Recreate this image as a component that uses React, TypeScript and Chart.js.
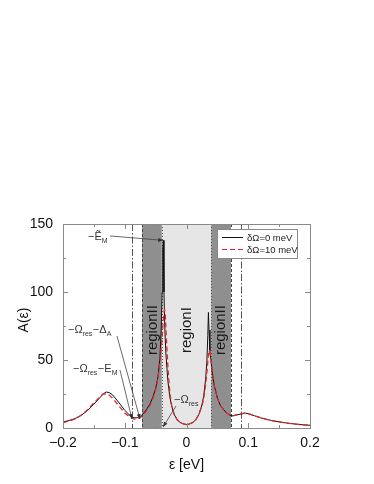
import React, { useEffect, useRef } from 'react';
import { Chart, registerables } from 'chart.js';
Chart.register(...registerables);

const energies = [-0.2,-0.19,-0.18,-0.17,-0.16,-0.15,-0.14,-0.135,-0.13,-0.125,-0.12,-0.11,-0.1,-0.09,-0.085,-0.08,-0.075,-0.07,-0.065,-0.06,-0.055,-0.05,-0.046,-0.043,-0.041,-0.0395,-0.0385,-0.0375,-0.0365,-0.0355,-0.0345,-0.033,-0.03,-0.027,-0.024,-0.02,-0.015,-0.01,-0.005,0,0.005,0.01,0.015,0.02,0.025,0.028,0.031,0.033,0.0345,0.0355,0.0365,0.038,0.04,0.042,0.045,0.05,0.055,0.06,0.065,0.07,0.075,0.08,0.085,0.09,0.095,0.1,0.105,0.11,0.12,0.13,0.14,0.15,0.16,0.17,0.18,0.19,0.2];

const specNoShift = [4.5,5.5,7,9.5,13,17.5,22.5,25,26.5,26,24.5,19,13,8.5,7.5,7.5,8.5,10.5,13.5,17,22,29,38,52,72,100,132,138,100,80,66,52,34,23,16,10,6,4,3,2.5,3,4,6,10,17,24,36,49,68,85,72,57,48,40,31,22,16.5,13.5,11,9.5,9,9.5,10,10.5,11,10.5,9.8,9,7.5,6.3,5.3,4.5,3.8,3.2,2.7,2.3,2];

const specShift10 = [4,5,6.8,9.5,13.5,18.5,23,25,25,24,22,16.5,11,7.5,6.5,6.5,7.5,9.5,12.5,16,21,28,37,48,58,66,73,80,85,87,85,70,44,26,16.5,10,6,4,3,2.5,3,4,6,10,16,22,32,41,49,54,57,55,49,40,31,22,16.5,13.5,11,9.5,9,9.5,10,10.5,11,10.5,9.8,9,7.5,6.3,5.3,4.5,3.8,3.2,2.7,2.3,2];

const seriesLabels = ['δΩ=0 meV', 'δΩ=10 meV'];
const xTickValues = [-0.2, -0.1, 0, 0.1, 0.2];
const yTickValues = [0, 50, 100, 150];
const regionII = [[-0.072, -0.04], [0.04, 0.072]];
const regionI = [-0.04, 0.04];
const dashDotLines = [-0.088, 0.088];
const regionNames = ['regionII', 'regionI', 'regionII'];
const regionNameX = [-0.055, 0, 0.055];

const FONT = '"Liberation Sans", Arial, sans-serif';

type Part = { t: string; sub?: boolean };
const annotations: { parts: Part[]; tx: number; ty: number; lx: number; ly: number; ax: number; ay: number }[] = [
  { parts: [{ t: '−Ẽ' }, { t: 'M', sub: true }], tx: -0.1595, ty: 138.2, lx: -0.1239, ly: 141.2, ax: -0.0378, ay: 138 },
  { parts: [{ t: '−Ω' }, { t: 'res', sub: true }, { t: '−Δ' }, { t: 'A', sub: true }], tx: -0.1919, ty: 69.9, lx: -0.1126, ly: 67.6, ax: -0.0753, ay: 6.6 },
  { parts: [{ t: '−Ω' }, { t: 'res', sub: true }, { t: '−E' }, { t: 'M', sub: true }], tx: -0.1838, ty: 41.2, lx: -0.1077, ly: 42.6, ax: -0.0883, ay: 6.6 },
  { parts: [{ t: '−Ω' }, { t: 'res', sub: true }], tx: -0.0202, ty: 18.4, lx: -0.017, ly: 16.2, ax: -0.038, ay: 0.7 },
];

function drawArrow(ctx: CanvasRenderingContext2D, x1: number, y1: number, x2: number, y2: number) {
  ctx.beginPath();
  ctx.moveTo(x1, y1);
  ctx.lineTo(x2, y2);
  ctx.stroke();
  const ang = Math.atan2(y2 - y1, x2 - x1);
  const L = 5, W = 2;
  ctx.beginPath();
  ctx.moveTo(x2, y2);
  ctx.lineTo(x2 - L * Math.cos(ang) + W * Math.sin(ang), y2 - L * Math.sin(ang) - W * Math.cos(ang));
  ctx.lineTo(x2 - L * Math.cos(ang) - W * Math.sin(ang), y2 - L * Math.sin(ang) + W * Math.cos(ang));
  ctx.closePath();
  ctx.fill();
}

const decor = {
  id: 'decor',
  beforeDatasetsDraw(chart: any) {
    const { ctx, chartArea: a, scales } = chart;
    const xs = scales.x, ys = scales.y;
    ctx.save();
    ctx.fillStyle = '#e6e6e6';
    ctx.fillRect(xs.getPixelForValue(regionI[0]), a.top, xs.getPixelForValue(regionI[1]) - xs.getPixelForValue(regionI[0]), a.bottom - a.top);
    ctx.fillStyle = '#8f8f8f';
    regionII.forEach(([l, r]) => {
      ctx.fillRect(xs.getPixelForValue(l), a.top, xs.getPixelForValue(r) - xs.getPixelForValue(l), a.bottom - a.top);
    });
    // vertical lines
    ctx.lineWidth = 1;
    ctx.strokeStyle = '#444';
    ctx.setLineDash([3, 2]);
    regionII.forEach(([l, r]) => {
      const v = Math.abs(l) > Math.abs(r) ? l : r;
      const px = Math.round(xs.getPixelForValue(v)) + 0.5;
      ctx.beginPath(); ctx.moveTo(px, a.top); ctx.lineTo(px, a.bottom); ctx.stroke();
    });
    ctx.setLineDash([1, 2]);
    ctx.strokeStyle = '#555';
    regionI.forEach((v) => {
      const px = Math.round(xs.getPixelForValue(v)) + 0.5;
      ctx.beginPath(); ctx.moveTo(px, a.top); ctx.lineTo(px, a.bottom); ctx.stroke();
    });
    ctx.setLineDash([7, 2, 1.5, 2]);
    ctx.strokeStyle = '#555';
    dashDotLines.forEach((v) => {
      const px = Math.round(xs.getPixelForValue(v)) + 0.5;
      ctx.beginPath(); ctx.moveTo(px, a.top); ctx.lineTo(px, a.bottom); ctx.stroke();
    });
    ctx.setLineDash([]);
    // region names
    ctx.fillStyle = '#1a1a1a';
    ctx.font = `15px ${FONT}`;
    ctx.textAlign = 'center';
    ctx.textBaseline = 'middle';
    regionNames.forEach((name, i) => {
      ctx.save();
      ctx.translate(xs.getPixelForValue(regionNameX[i]), ys.getPixelForValue(72));
      ctx.rotate(-Math.PI / 2);
      ctx.fillText(name, 0, 0);
      ctx.restore();
    });
    ctx.restore();
  },
  afterDatasetsDraw(chart: any) {
    const { ctx, chartArea: a, scales } = chart;
    const xs = scales.x, ys = scales.y;
    ctx.save();
    // frame
    ctx.strokeStyle = '#8a8a8a';
    ctx.lineWidth = 1;
    ctx.strokeRect(Math.round(a.left) + 0.5, Math.round(a.top) + 0.5, Math.round(a.right - a.left), Math.round(a.bottom - a.top));
    // ticks inward
    ctx.beginPath();
    for (let v = -0.2; v <= 0.2001; v += 0.05) {
      const major = Math.abs(Math.round(v * 10) - v * 10) < 1e-6;
      const len = major ? 5 : 3;
      const px = Math.round(xs.getPixelForValue(v)) + 0.5;
      ctx.moveTo(px, a.bottom); ctx.lineTo(px, a.bottom - len);
      ctx.moveTo(px, a.top); ctx.lineTo(px, a.top + len);
    }
    for (let v = 0; v <= 150; v += 25) {
      const major = v % 50 === 0;
      const len = major ? 5 : 3;
      const py = Math.round(ys.getPixelForValue(v)) + 0.5;
      ctx.moveTo(a.left, py); ctx.lineTo(a.left + len, py);
      ctx.moveTo(a.right, py); ctx.lineTo(a.right - len, py);
    }
    ctx.stroke();
    // annotations
    ctx.strokeStyle = '#444';
    ctx.fillStyle = '#333';
    ctx.lineWidth = 0.8;
    annotations.forEach((an) => {
      drawArrow(ctx, xs.getPixelForValue(an.lx), ys.getPixelForValue(an.ly), xs.getPixelForValue(an.ax), ys.getPixelForValue(an.ay));
      let x = xs.getPixelForValue(an.tx);
      const y = ys.getPixelForValue(an.ty);
      ctx.textAlign = 'left';
      ctx.textBaseline = 'alphabetic';
      an.parts.forEach((p) => {
        ctx.font = p.sub ? `7px ${FONT}` : `11px ${FONT}`;
        ctx.fillText(p.t, x, p.sub ? y + 3 : y);
        x += ctx.measureText(p.t).width + (p.sub ? 0.5 : 0);
      });
    });
    // legend
    const lx = a.right - 93, ly = a.top + 5, lw = 80, lh = 29;
    ctx.fillStyle = '#fff';
    ctx.fillRect(lx, ly, lw, lh);
    ctx.strokeStyle = '#888';
    ctx.lineWidth = 1;
    ctx.strokeRect(lx + 0.5, ly + 0.5, lw, lh);
    const colors = ['#111', '#e3262b'];
    const dashes = [[], [5, 3]];
    seriesLabels.forEach((lab, i) => {
      const yy = ly + 8 + i * 12;
      ctx.strokeStyle = colors[i];
      ctx.lineWidth = 1;
      ctx.setLineDash(dashes[i]);
      ctx.beginPath(); ctx.moveTo(lx + 5, yy + 0.5); ctx.lineTo(lx + 26, yy + 0.5); ctx.stroke();
      ctx.setLineDash([]);
      ctx.fillStyle = '#222';
      ctx.font = `9.5px ${FONT}`;
      ctx.textBaseline = 'middle';
      ctx.textAlign = 'left';
      ctx.fillText(lab, lx + 30, yy + 1);
    });
    // axis titles
    ctx.fillStyle = '#111';
    ctx.font = `14px ${FONT}`;
    ctx.textAlign = 'center';
    ctx.textBaseline = 'middle';
    ctx.fillText('ε [eV]', (a.left + a.right) / 2, 465);
    ctx.save();
    ctx.translate(24, (a.top + a.bottom) / 2 - 6);
    ctx.rotate(-Math.PI / 2);
    ctx.fillText('A(ε)', 0, 0);
    ctx.restore();
    ctx.restore();
  },
};

export default function App() {
  const ref = useRef<HTMLCanvasElement | null>(null);
  useEffect(() => {
    if (!ref.current) return;
    const chart = new Chart(ref.current, {
      type: 'scatter',
      data: {
        datasets: [
          {
            label: seriesLabels[1],
            data: energies.map((x, i) => ({ x, y: specShift10[i] })),
            showLine: true,
            borderColor: '#e3262b',
            borderWidth: 1.3,
            borderDash: [5, 3],
            pointRadius: 0,
          },
          {
            label: seriesLabels[0],
            data: energies.map((x, i) => ({ x, y: specNoShift[i] })),
            showLine: true,
            borderColor: '#111',
            borderWidth: 1,
            pointRadius: 0,
          },
        ],
      },
      options: {
        responsive: false,
        animation: false,
        layout: { padding: { left: 0, right: 64, top: 224, bottom: 0 } },
        plugins: { legend: { display: false }, tooltip: { enabled: false } },
        scales: {
          x: {
            type: 'linear',
            min: -0.2,
            max: 0.2,
            afterBuildTicks: (s: any) => { s.ticks = xTickValues.map((v) => ({ value: v })); },
            afterFit: (s: any) => { s.height = 56; },
            ticks: {
              padding: 7,
              color: '#111',
              font: { family: FONT, size: 14 },
              maxRotation: 0,
              autoSkip: false,
              callback: (v: any) => {
                const n = Number(v);
                if (Math.abs(n) < 1e-9) return '0';
                return (n < 0 ? '−' : '') + Math.abs(n).toFixed(1);
              },
            },
            grid: { display: false, drawTicks: false },
            border: { display: false },
          },
          y: {
            min: 0,
            max: 150,
            afterBuildTicks: (s: any) => { s.ticks = yTickValues.map((v) => ({ value: v })); },
            afterFit: (s: any) => { s.width = 63; },
            ticks: {
              padding: 10,
              color: '#111',
              font: { family: FONT, size: 14 },
              autoSkip: false,
            },
            grid: { display: false, drawTicks: false },
            border: { display: false },
          },
        },
      },
      plugins: [decor],
    });
    return () => chart.destroy();
  }, []);
  return (
    <div style={{ position: 'absolute', left: 0, top: 0, width: 374, height: 484 }}>
      <canvas ref={ref} width={374} height={484} style={{ width: 374, height: 484 }} />
    </div>
  );
}
